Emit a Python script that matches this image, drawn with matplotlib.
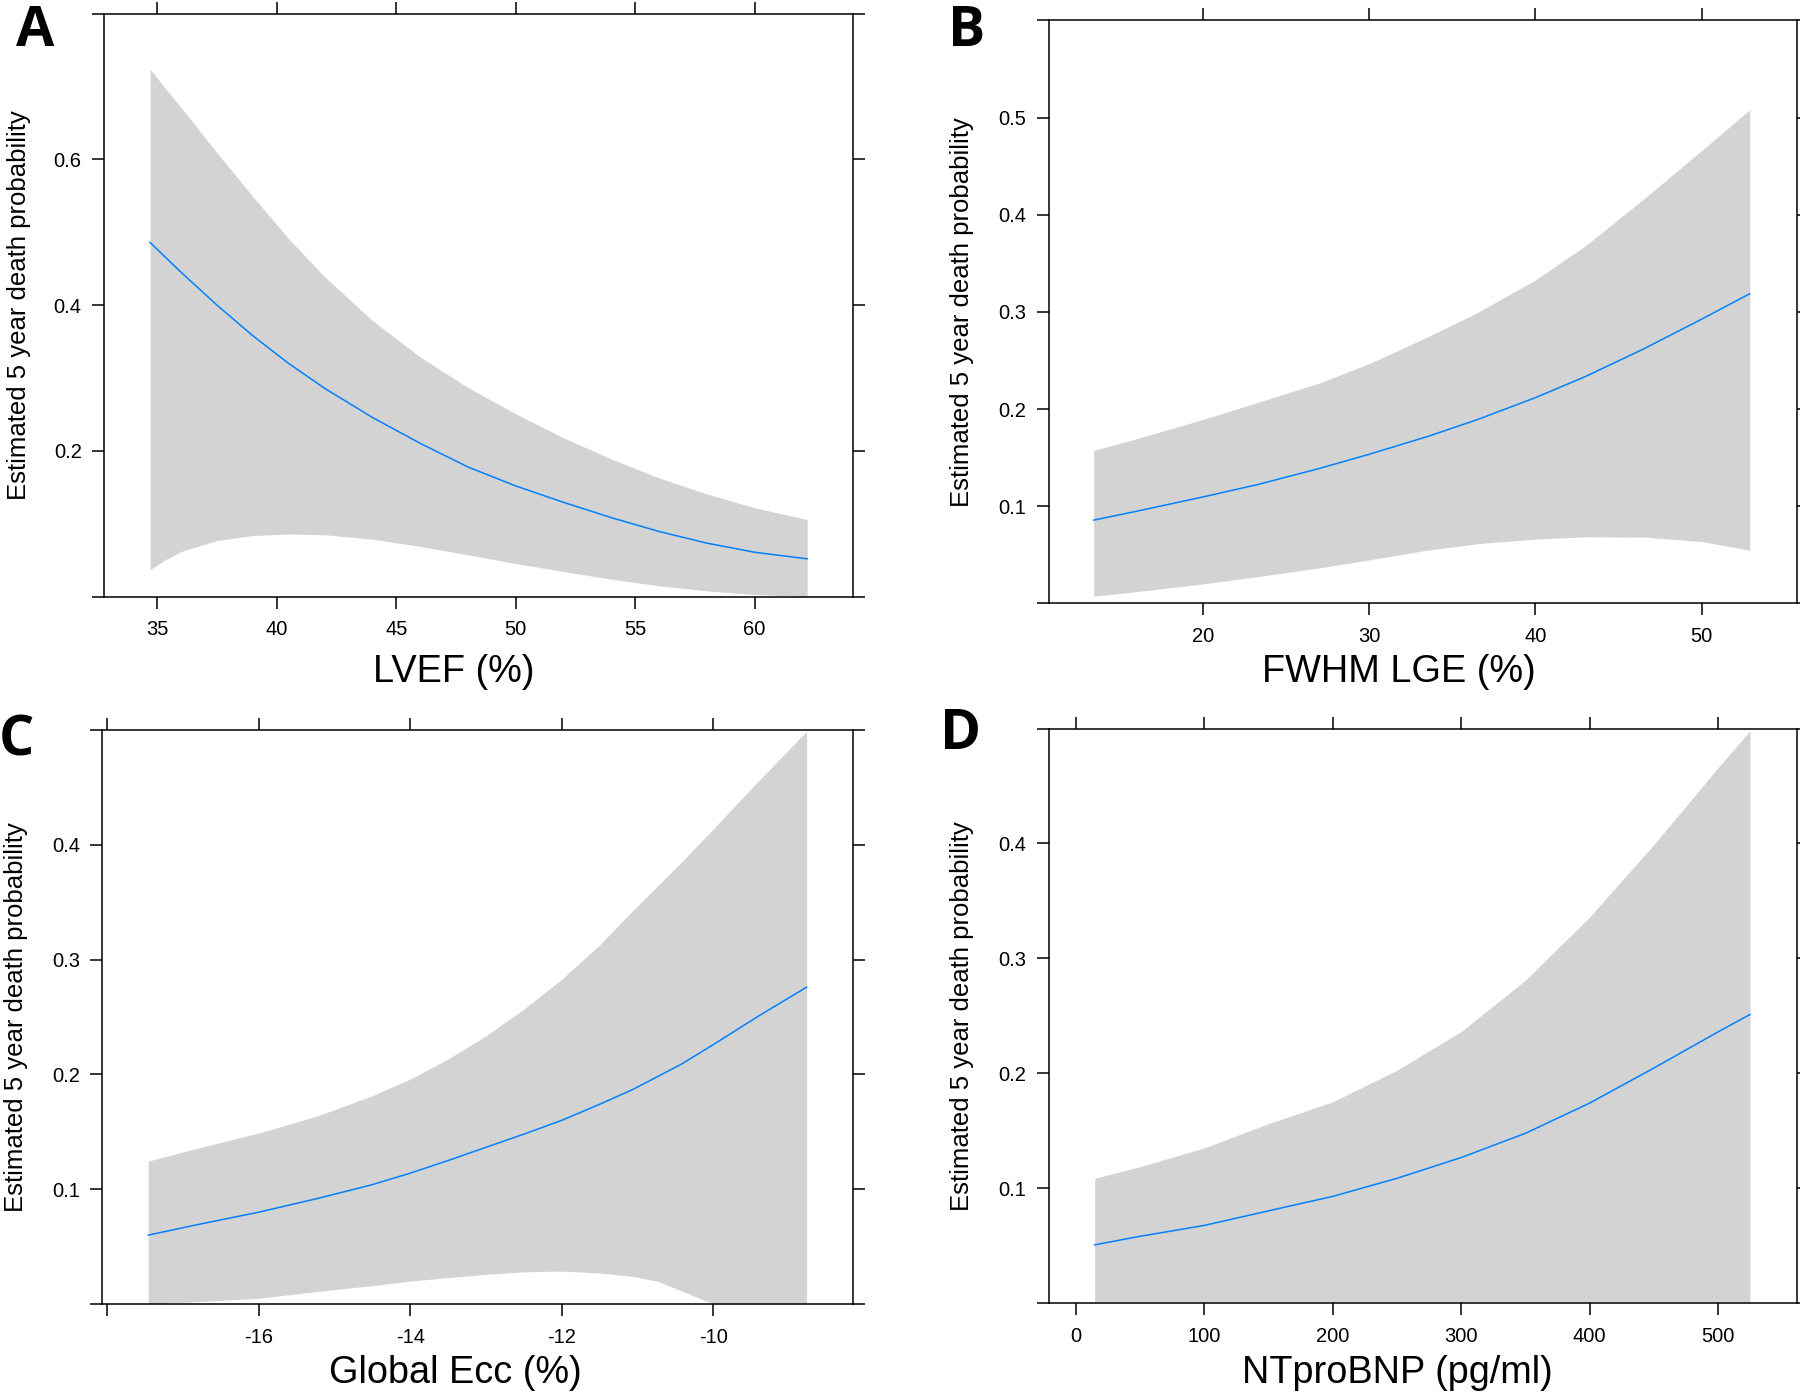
"""Four-panel effect plot: estimated 5 year death probability vs. predictors.

Lattice-style look: boxed panels, outward ticks on all four sides,
grey confidence band with the fitted curve in blue.
"""

import matplotlib.pyplot as plt

W, H = 1800, 1394  # output size in pixels (dpi=100)

# ---- Panel A: LVEF ----
lvef_x = [34.7, 35.3, 36, 37.5, 39, 40.5, 42, 44, 46, 48, 50, 52, 54, 56, 58, 60, 62.2]
lvef_fit = [0.486, 0.467, 0.445, 0.400, 0.358, 0.320, 0.286, 0.246, 0.2105, 0.178,
            0.152, 0.1295, 0.1085, 0.0895, 0.0735, 0.061, 0.052]
lvef_hi = [0.724, 0.699, 0.671, 0.609, 0.549, 0.491, 0.439, 0.379, 0.329, 0.287,
           0.251, 0.218, 0.189, 0.163, 0.141, 0.122, 0.106]
lvef_lo = [0.037, 0.050, 0.062, 0.077, 0.084, 0.086, 0.085, 0.079, 0.069, 0.0575,
           0.0455, 0.0345, 0.024, 0.015, 0.008, 0.003, 0.0]

# ---- Panel B: FWHM LGE ----
fwhm_x = [13.4, 16, 20, 23.3, 27, 30, 33.5, 36.5, 40, 43, 46.5, 50, 52.9]
fwhm_fit = [0.0858, 0.0950, 0.1097, 0.1225, 0.1390, 0.1536, 0.1718, 0.1892, 0.2118,
            0.2335, 0.2618, 0.2925, 0.3187]
fwhm_hi = [0.1576, 0.1696, 0.1895, 0.2070, 0.2270, 0.2469, 0.2743, 0.2993, 0.333,
           0.368, 0.416, 0.466, 0.508]
fwhm_lo = [0.0075, 0.0122, 0.0202, 0.0277, 0.0367, 0.0449, 0.0549, 0.0615, 0.0663,
           0.0686, 0.0684, 0.0638, 0.0549]

# ---- Panel C: Global Ecc ----
ecc_x = [-17.46, -16.82, -16, -15.22, -14.5, -14, -13.5, -12.98, -12.5, -12, -11.5,
         -11.06, -10.74, -10.42, -10, -9.4, -8.77]
ecc_fit = [0.060, 0.069, 0.080, 0.092, 0.104, 0.114, 0.125, 0.137, 0.148, 0.160, 0.174,
           0.187, 0.198, 0.209, 0.226, 0.251, 0.276]
ecc_hi = [0.1245, 0.1355, 0.149, 0.164, 0.1815, 0.196, 0.2135, 0.2345, 0.257, 0.283,
          0.313, 0.343, 0.364, 0.385, 0.414, 0.456, 0.499]
ecc_lo = [0.0, 0.002, 0.005, 0.011, 0.016, 0.020, 0.023, 0.026, 0.028, 0.0287, 0.027,
          0.024, 0.0198, 0.0114, 0.0, 0.0, 0.0]

# ---- Panel D: NTproBNP ----
bnp_x = [14.7, 48.6, 100, 150, 200, 250, 300, 350, 400, 450, 500, 524.8]
bnp_fit = [0.0506, 0.0578, 0.0675, 0.0802, 0.0928, 0.1085, 0.1266, 0.1477, 0.174,
           0.2045, 0.236, 0.2511]
bnp_hi = [0.1085, 0.1182, 0.135, 0.1561, 0.1751, 0.2026, 0.2363, 0.281, 0.336,
          0.399, 0.466, 0.498]
bnp_lo = [0.001] * len(bnp_x)

ylab = "Estimated 5 year death probability"

plt.rcParams["font.family"] = ["Liberation Sans", "DejaVu Sans"]

fig = plt.figure(figsize=(W / 100, H / 100), dpi=100)


def panel(box, x, fit, lo, hi, xlim, ylim, xticks, xlabels, yticks, ylabels):
    """Add one boxed panel; box is (left, top, right, bottom) in pixels."""
    left, top, right, bottom = box
    ax = fig.add_axes([left / W, 1 - bottom / H, (right - left) / W, (bottom - top) / H])
    ax.fill_between(x, lo, hi, color="#d3d3d3", lw=0)
    ax.plot(x, fit, color="#0080ff", lw=1.1)
    ax.set_xlim(*xlim)
    ax.set_ylim(*ylim)
    ax.set_xticks(xticks)
    ax.set_xticklabels(xlabels)
    ax.set_yticks(yticks)
    ax.set_yticklabels(ylabels)
    for s in ax.spines.values():
        s.set_linewidth(1.1)
    ax.tick_params(which="both", direction="out", length=8.6, width=1.1,
                   top=True, right=True, labeltop=False, labelright=False,
                   labelsize=14.5)
    ax.tick_params(axis="x", pad=8.5)
    ax.tick_params(axis="y", pad=7.5)
    for t in ax.get_xticklines() + ax.get_yticklines():
        t.set_clip_on(False)
    return ax


panel((104, 13.6, 852.8, 596.7), lvef_x, lvef_fit, lvef_lo, lvef_hi,
      (32.77, 64.11), (0, 0.8),
      [35, 40, 45, 50, 55, 60], ["35", "40", "45", "50", "55", "60"],
      [0, 0.2, 0.4, 0.6, 0.8], ["", "0.2", "0.4", "0.6", ""])

panel((1048.7, 20.4, 1797, 603.5), fwhm_x, fwhm_fit, fwhm_lo, fwhm_hi,
      (10.69, 55.75), (0, 0.6),
      [20, 30, 40, 50], ["20", "30", "40", "50"],
      [0, 0.1, 0.2, 0.3, 0.4, 0.5, 0.6], ["", "0.1", "0.2", "0.3", "0.4", "0.5", ""])

panel((102.3, 730, 852.8, 1304), ecc_x, ecc_fit, ecc_lo, ecc_hi,
      (-18.066, -8.16), (0, 0.5),
      [-18, -16, -14, -12, -10], ["", "-16", "-14", "-12", "-10"],
      [0, 0.1, 0.2, 0.3, 0.4, 0.5], ["", "0.1", "0.2", "0.3", "0.4", ""])

panel((1048.7, 728.5, 1797, 1303), bnp_x, bnp_fit, bnp_lo, bnp_hi,
      (-21.1, 561.4), (0, 0.5),
      [0, 100, 200, 300, 400, 500], ["0", "100", "200", "300", "400", "500"],
      [0, 0.1, 0.2, 0.3, 0.4, 0.5], ["", "0.1", "0.2", "0.3", "0.4", ""])


def ftext(px, py, s, **kw):
    fig.text(px / W, 1 - py / H, s, **kw)


# axis titles, placed in figure pixels
for px, py, s in [(454, 672, "LVEF (%)"), (1399, 672, "FWHM LGE (%)"),
                  (455, 1373, "Global Ecc (%)"), (1397, 1373, "NTproBNP (pg/ml)")]:
    ftext(px, py, s, fontsize=27.3, ha="center", va="center")

for px, py in [(18.7, 305), (962.5, 312), (16.4, 1017), (962, 1016)]:
    ftext(px, py, ylab, fontsize=18.5, rotation=90, ha="center", va="center")

# panel letters
for px, py, s in [(15.5, 45.7, "A"), (948, 45.7, "B"), (-1, 756, "C"), (940, 749.3, "D")]:
    ftext(px, py, s, fontsize=40, fontweight="bold", family=["Open Sans", "DejaVu Sans"],
          ha="left", va="baseline")

fig.savefig("out.png", dpi=100, facecolor="white")
